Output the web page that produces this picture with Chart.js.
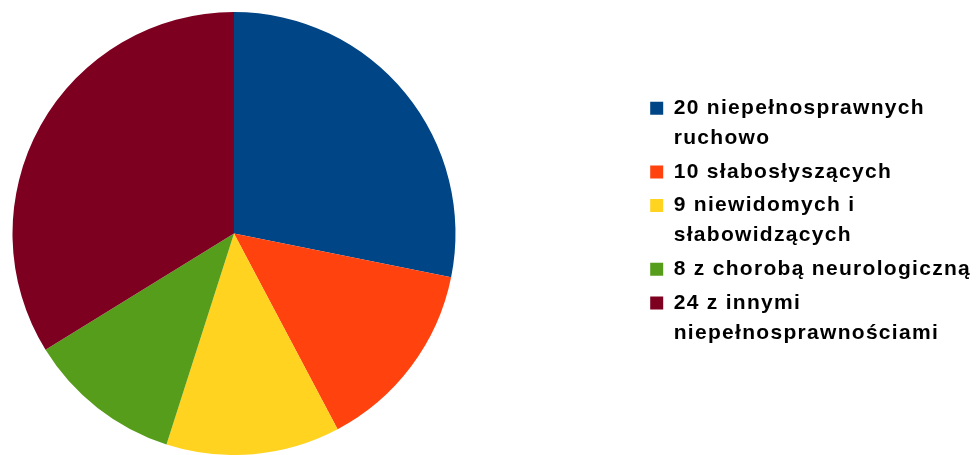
<!DOCTYPE html>
<html>
<head>
<meta charset="utf-8">
<script src="https://cdn.jsdelivr.net/npm/chart.js@4/dist/chart.umd.min.js"></script>
<style>
  html, body { margin: 0; padding: 0; background: #fff; }
  #wrap { width: 977px; height: 455px; position: relative; }
</style>
</head>
<body>
<div id="wrap"><canvas id="chart"></canvas></div>
<script>
// Dane wykresu
const categories = [
    ['20 niepełnosprawnych', 'ruchowo'],
    ['10 słabosłyszących'],
    ['9 niewidomych i', 'słabowidzących'],
    ['8 z chorobą neurologiczną'],
    ['24 z innymi', 'niepełnosprawnościami']
];
const values = [20, 10, 9, 8, 24];
const colors = ['#004586', '#ff420e', '#ffd320', '#579d1c', '#7e0021'];

const LETTER_SPACING = '1.3px';

const layoutPlugin = {
    id: 'layoutFix',
    // Tekst legendy jest lekko rozstrzelony jak w oryginale
    beforeLayout(chart) { chart.ctx.letterSpacing = LETTER_SPACING; },
    beforeDraw(chart) { chart.ctx.letterSpacing = LETTER_SPACING; },
    // Koło zajmuje lewą część, legenda zostaje po prawej
    afterLayout(chart) {
        const a = chart.chartArea;
        a.left = 12; a.right = 456;
        a.top = 12; a.bottom = 455;
        a.width = a.right - a.left;
        a.height = a.bottom - a.top;

        const lg = chart.legend;
        const w = lg.right - lg.left;
        lg.left = 646.5; lg.right = lg.left + w;
        lg.top = 94;
    }
};

new Chart(document.getElementById('chart'), {
    type: 'pie',
    data: {
        labels: categories,
        datasets: [{
            data: values,
            backgroundColor: colors,
            borderWidth: 0
        }]
    },
    options: {
        responsive: true,
        maintainAspectRatio: false,
        animation: false,
        plugins: {
            tooltip: { enabled: false },
            legend: {
                position: 'right',
                align: 'start',
                labels: {
                    color: '#000',
                    boxWidth: 13,
                    boxHeight: 13,
                    padding: 3.7,
                    font: { family: "'Liberation Sans', Arial, sans-serif", size: 21, weight: 'bold', lineHeight: 30 / 21 }
                }
            }
        }
    },
    plugins: [layoutPlugin]
});
</script>
</body>
</html>
